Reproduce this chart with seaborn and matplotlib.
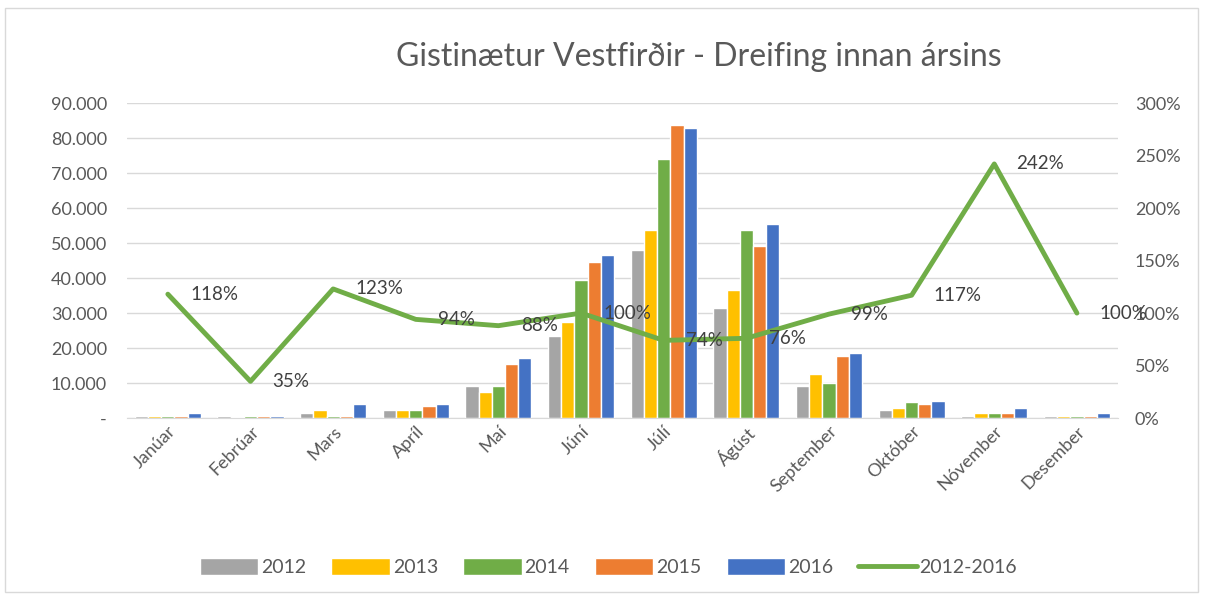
import matplotlib
matplotlib.use("Agg")
import matplotlib.pyplot as plt
import matplotlib.ticker as mticker
import numpy as np
import pandas as pd
import seaborn as sns

months = ["Janúar", "Febrúar", "Mars", "Apríl", "Maí", "Júní", "Júlí",
          "Ágúst", "September", "Október", "Nóvember", "Desember"]
years = ["2012", "2013", "2014", "2015", "2016"]
nights_2012 = [600, 500, 1500, 2300, 9100, 23400, 48100, 31400, 9100, 2200, 700, 600]
nights_2013 = [500, 400, 2300, 2300, 7400, 27500, 53800, 36700, 12500, 2800, 1600, 600]
nights_2014 = [500, 500, 700, 2300, 9100, 39400, 73900, 53800, 10100, 4500, 1600, 600]
nights_2015 = [600, 500, 600, 3400, 15400, 44700, 83700, 49300, 17700, 4000, 1600, 600]
nights_2016 = [1600, 700, 4000, 4000, 17200, 46500, 83000, 55500, 18500, 5000, 2800, 1600]
growth_pct = [118, 35, 123, 94, 88, 100, 74, 76, 99, 117, 242, 100]

colors = ["#A5A5A5", "#FFC000", "#70AD47", "#ED7D31", "#4472C4"]
line_color = "#70AD47"
text_color = "#595959"

df = pd.DataFrame({
    "month": months * 5,
    "year": [y for y in years for _ in months],
    "nights": nights_2012 + nights_2013 + nights_2014 + nights_2015 + nights_2016,
})

sns.set_style("white")
plt.rcParams["font.family"] = ["Lato", "DejaVu Sans"]

fig = plt.figure(figsize=(12.05, 5.99), dpi=100)
ax = fig.add_axes([0.105, 0.302, 0.823, 0.526])

sns.barplot(data=df, x="month", y="nights", hue="year", palette=colors,
            saturation=1, width=0.8, ax=ax, legend=True)

ax.set_ylim(0, 90000)
ax.yaxis.set_major_locator(mticker.MultipleLocator(10000))
ax.yaxis.set_major_formatter(mticker.FuncFormatter(
    lambda v, p: "-" if v == 0 else f"{int(v):,}".replace(",", ".")))
ax.grid(axis="y", color="#D9D9D9", linewidth=1)
ax.set_axisbelow(True)
for s in ["top", "right", "left"]:
    ax.spines[s].set_visible(False)
ax.spines["bottom"].set_color("#D9D9D9")
ax.set_xlabel("")
ax.set_ylabel("")
ax.tick_params(axis="both", length=0, labelsize=13, colors=text_color)
ax.tick_params(axis="y", pad=14)
plt.setp(ax.get_xticklabels(), rotation=45, ha="right", rotation_mode="anchor")

ax2 = ax.twinx()
xpos = np.arange(len(months))
sns.lineplot(x=xpos, y=growth_pct, ax=ax2, color=line_color, linewidth=3.5,
             label="2012-2016", legend=False)
ax2.set_ylim(0, 300)
ax2.yaxis.set_major_locator(mticker.MultipleLocator(50))
ax2.yaxis.set_major_formatter(mticker.FuncFormatter(lambda v, p: f"{int(v)}%"))
ax2.tick_params(axis="y", length=0, labelsize=13, colors=text_color, pad=12)
for s in ["top", "right", "left", "bottom"]:
    ax2.spines[s].set_visible(False)
ax2.set_ylabel("")
ax.set_xlim(-0.5, len(months) - 0.5)

for x, v in zip(xpos, growth_pct):
    ax2.annotate(f"{v}%", (x, v), xytext=(16, 0), textcoords="offset points",
                 ha="left", va="center", fontsize=13.5, color="#404040")

h1, l1 = ax.get_legend_handles_labels()
h2, l2 = ax2.get_legend_handles_labels()
ax.get_legend().remove()
fig.legend(h1 + h2, l1 + l2, loc="center", bbox_to_anchor=(0.505, 0.053),
           ncol=6, frameon=False, fontsize=14, handlelength=3.0,
           handleheight=1.0, columnspacing=1.3, handletextpad=0.15,
           labelcolor=text_color)

fig.suptitle("Gistinætur Vestfirðir - Dreifing innan ársins", x=0.58, y=0.93,
             fontsize=23, color="#595959")

fig.patches.append(plt.Rectangle((0.004, 0.012), 0.99, 0.975, transform=fig.transFigure,
                                 fill=False, edgecolor="#D9D9D9", linewidth=1))

fig.savefig("out.png", dpi=100, facecolor="white")
